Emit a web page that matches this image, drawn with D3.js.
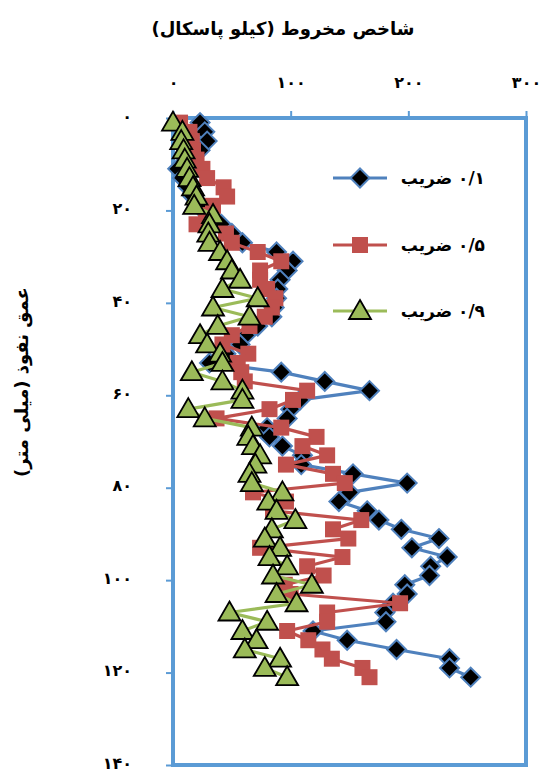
<!DOCTYPE html>
<html>
<head>
<meta charset="utf-8">
<script src="https://cdn.jsdelivr.net/npm/d3@7/dist/d3.min.js"></script>
<style>
body { margin: 0; background: #fff; }
text { font-family: "DejaVu Sans", sans-serif; font-weight: bold; fill: #000; }
</style>
</head>
<body>
<div id="chart"></div>
<script>
// depth of penetration (mm)
var depth = [1,3,5,7,9,11,13,15,17,19,21,23,25,27,29,31,33,35,37,39,41,43,45,47,49,51,53,55,57,59,
             61,63,65,67,69,71,73,75,77,79,81,83,85,87,89,91,93,95,97,99,101,103,105,107,109,111,113,115,117,119,121];

// cone index (kPa) for each coefficient
var zarib01 = [23,27,29,23,14,4,8,13,17,22, 30,41,50,59,88,102,97,91,89,88,
               86,84,72,62,57,45,31,92,129,167, 108,100,97,80,82,93,110,109,153,199,
               150,141,165,175,194,226,203,233,219,218, 197,199,187,180,181,119,148,190,235,235,253];
var zarib05 = [6,14,16,17,20,25,29,43,46,34, 28,20,45,50,72,92,74,74,80,87,
               84,78,65,50,42,64,55,58,61,114, 102,82,37,92,122,110,131,96,136,146,
               68,96,85,160,136,149,74,144,114,128, 95,100,193,131,131,97,115,127,135,161,167];
var zarib09 = [0,8,7,9,10,12,14,17,20,18, 34,31,30,31,40,46,50,57,42,72,
               34,65,38,23,29,40,42,16,42,59, 59,13,27,67,64,68,74,70,65,67,
               93,81,88,104,84,78,91,82,97,85, 118,88,105,48,80,59,71,61,91,78,97];

var seriesNames = ['۰/۱ ضریب', '۰/۵ ضریب', '۰/۹ ضریب'];
var xTicks = [0,100,200,300];
var yTicks = [0,20,40,60,80,100,120,140];

var W = 542, H = 772;
var margin = {top: 118, right: 16, bottom: 7, left: 173};
var width = W - margin.left - margin.right,
    height = H - margin.top - margin.bottom;

function fa(n) {
  return String(n).replace(/\d/g, function(d){ return '۰۱۲۳۴۵۶۷۸۹'[+d]; });
}

var svg = d3.select('#chart').append('svg')
    .attr('width', W)
    .attr('height', H);

var g = svg.append('g')
    .attr('transform', 'translate(' + margin.left + ',' + margin.top + ')');

var x = d3.scaleLinear().domain([0, 300]).range([0, width]);
var y = d3.scaleLinear().domain([0, 140]).range([0, height]);

var axisColor = '#5B9BD5';

// axes
var xAxis = g.append('g')
    .call(d3.axisTop(x).tickValues(xTicks).tickSize(7).tickPadding(23).tickFormat(fa));
var yAxis = g.append('g')
    .call(d3.axisLeft(y).tickValues(yTicks).tickSize(7).tickPadding(34).tickFormat(fa));

[xAxis, yAxis].forEach(function(a) {
  a.select('.domain').remove();
  a.selectAll('line').attr('stroke', axisColor).attr('stroke-width', 2);
  a.selectAll('text')
    .style('font-size', '16px')
    .style('font-family', '"DejaVu Sans", sans-serif')
    .style('font-weight', 'bold')
    .style('letter-spacing', '2px')
    .attr('fill', '#000');
});
yAxis.selectAll('text').attr('dy', '0.2em');

// plot border
g.append('rect')
  .attr('x', 0).attr('y', 0)
  .attr('width', width).attr('height', height)
  .attr('fill', 'none')
  .attr('stroke', axisColor)
  .attr('stroke-width', 4);

// markers
var diamond = 'M0,-9.5L9.5,0L0,9.5L-9.5,0Z';
var square = 'M-8,-8H8V8H-8Z';
var triangle = 'M0,-11L11,8L-11,8Z';

var series = [
  {name: seriesNames[0], values: zarib01, line: '#4F81BD', fill: '#000', stroke: '#4F81BD', sw: 2, shape: diamond},
  {name: seriesNames[1], values: zarib05, line: '#C0504D', fill: '#C0504D', stroke: 'none', sw: 0, shape: square},
  {name: seriesNames[2], values: zarib09, line: '#9BBB59', fill: '#9BBB59', stroke: '#000', sw: 1.8, shape: triangle}
];

var line = d3.line()
    .x(function(d) { return x(d.v); })
    .y(function(d) { return y(d.d); });

series.forEach(function(s) {
  var pts = depth.map(function(d, i) { return {d: d, v: s.values[i]}; });
  var sg = g.append('g');
  sg.append('path')
    .datum(pts)
    .attr('d', line)
    .attr('fill', 'none')
    .attr('stroke', s.line)
    .attr('stroke-width', 3.2)
    .attr('stroke-linejoin', 'round');
  sg.selectAll('path.m')
    .data(pts)
    .enter().append('path')
    .attr('class', 'm')
    .attr('d', s.shape)
    .attr('transform', function(d) { return 'translate(' + x(d.v) + ',' + y(d.d) + ')'; })
    .attr('fill', s.fill)
    .attr('stroke', s.stroke)
    .attr('stroke-width', s.sw)
    .attr('stroke-linejoin', 'miter');
});

// legend
var legY = [178, 245, 311];
var leg = svg.append('g');
series.forEach(function(s, i) {
  var row = leg.append('g').attr('transform', 'translate(0,' + legY[i] + ')');
  row.append('line')
    .attr('x1', 333).attr('x2', 387)
    .attr('y1', 0).attr('y2', 0)
    .attr('stroke', s.line).attr('stroke-width', 3.2);
  row.append('path')
    .attr('d', s.shape)
    .attr('transform', 'translate(360,0)')
    .attr('fill', s.fill)
    .attr('stroke', s.stroke)
    .attr('stroke-width', s.sw);
  row.append('text')
    .attr('x', 485).attr('y', 6)
    .attr('text-anchor', 'start')
    .attr('direction', 'rtl')
    .style('font-size', '17px')
    .text(s.name);
});

// axis titles
svg.append('text')
  .attr('x', 283).attr('y', 35)
  .attr('text-anchor', 'middle')
  .style('font-size', '18px')
  .text('شاخص مخروط (کیلو پاسکال)');

svg.append('text')
  .attr('transform', 'translate(28,382) rotate(-90)')
  .attr('text-anchor', 'middle')
  .style('font-size', '18px')
  .text('عمق نفوذ (میلی متر)');
</script>
</body>
</html>
